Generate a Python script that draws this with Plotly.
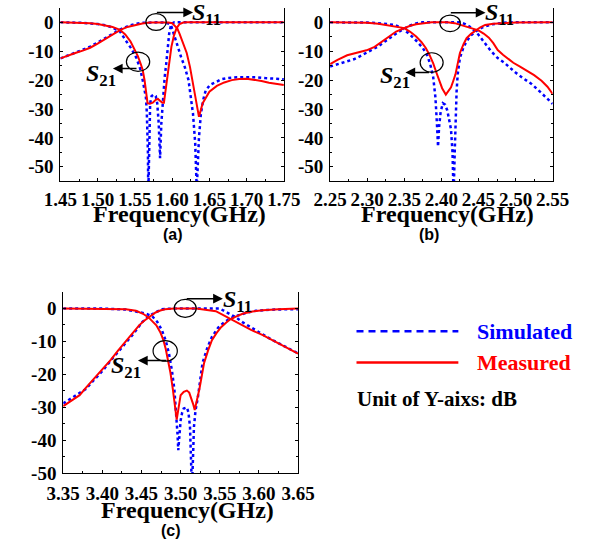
import plotly.graph_objects as go

# ---------------- DATA ----------------
# Panel (a): 1.45-1.75 GHz
a_meas_s21_f = [1.45,1.46,1.47,1.48,1.49,1.50,1.51,1.52,1.53,1.54,1.55,1.56,1.57,1.58,1.59,1.595,1.600,1.604,1.607,1.610,1.614,1.6196,1.624,1.628,1.632,1.636,1.641,1.645,1.650,1.660,1.670,1.680,1.690,1.700,1.710,1.720,1.730,1.740,1.750]
a_meas_s21_db = [-12.5,-11.5,-10.6,-9.8,-8.8,-7.4,-5.8,-4.2,-2.7,-1.6,-0.9,-0.4,-0.1,0,0,-0.1,-0.3,-1.2,-2.2,-4.0,-7.0,-10.6,-15.5,-21.4,-27.5,-32.7,-28,-26,-24,-22,-20.8,-20,-19.6,-19.5,-19.8,-20.3,-20.9,-21.4,-21.7]
a_meas_s11_f = [1.45,1.47,1.49,1.50,1.51,1.52,1.53,1.537,1.544,1.550,1.554,1.558,1.5605,1.563,1.565,1.567,1.570,1.574,1.578,1.581,1.584,1.587,1.589,1.591,1.593,1.596,1.599,1.6025,1.606,1.610,1.615,1.62,1.65,1.70,1.75]
a_meas_s11_db = [0,-0.1,-0.3,-0.6,-1.0,-1.6,-2.6,-4.2,-6.6,-9.5,-11.7,-14.5,-16.5,-20,-24,-28,-28.2,-27.8,-26.8,-26.5,-27.2,-27.8,-27.8,-24,-19,-13.5,-8.5,-4.5,-2,-0.6,-0.1,0,0,0,0]
a_sim_s21_f = [1.45,1.46,1.47,1.48,1.49,1.50,1.51,1.52,1.53,1.54,1.55,1.56,1.57,1.58,1.59,1.595,1.5985,1.605,1.612,1.617,1.622,1.628,1.631,1.633,1.6345,1.636,1.6386,1.642,1.645,1.651,1.66,1.666,1.675,1.687,1.70,1.712,1.725,1.74,1.75]
a_sim_s21_db = [-12.5,-11.6,-10.5,-9.5,-8.4,-7.0,-5.5,-3.9,-2.5,-1.4,-0.6,-0.2,0,0,-0.1,-0.4,-1.0,-6.6,-12,-15.5,-20,-31.6,-42,-58,-50,-40,-31.6,-26.5,-23.6,-21.6,-20.5,-19.7,-19.3,-19,-19,-19,-19.3,-19.6,-19.7]
a_sim_s11_f = [1.45,1.48,1.50,1.51,1.52,1.53,1.537,1.545,1.552,1.557,1.5605,1.563,1.5648,1.566,1.567,1.5675,1.568,1.569,1.5705,1.5725,1.5755,1.578,1.580,1.582,1.5838,1.5855,1.588,1.590,1.592,1.594,1.596,1.598,1.600,1.603,1.61,1.65,1.70,1.75]
a_sim_s11_db = [0,-0.2,-0.6,-1.0,-1.8,-3.2,-6,-9,-12.3,-16,-20,-23,-26,-31,-37,-45,-60,-40,-28,-25.5,-25,-25.5,-28,-35,-47,-35,-24,-19,-14.5,-9,-4,-1.5,-0.4,0,0,0,0,0]

# Panel (b): 2.25-2.55 GHz
b_meas_s21_f = [2.25,2.26,2.273,2.285,2.299,2.31,2.32,2.33,2.339,2.35,2.358,2.366,2.375,2.387,2.40,2.408,2.418,2.425,2.438,2.45,2.457,2.464,2.47,2.476,2.483,2.489,2.497,2.506,2.515,2.525,2.535,2.543,2.55]
b_meas_s21_db = [-14.5,-13,-11.4,-10.5,-9.7,-8.5,-6.6,-4.8,-3.2,-2.0,-1.2,-0.7,-0.3,0,0,0,-0.3,-0.8,-1.8,-2.8,-3.9,-5.3,-7.2,-9.6,-11.2,-12.5,-14,-15.3,-16.6,-18.3,-20.2,-22.3,-24.8]
b_meas_s11_f = [2.25,2.28,2.30,2.315,2.324,2.335,2.35,2.358,2.366,2.373,2.379,2.384,2.389,2.393,2.397,2.401,2.406,2.41,2.413,2.416,2.419,2.422,2.425,2.43,2.434,2.44,2.446,2.452,2.459,2.47,2.484,2.50,2.55]
b_meas_s11_db = [0,-0.1,-0.2,-0.5,-0.9,-1.4,-2.0,-3.3,-4.9,-6.8,-8.9,-11.3,-14.2,-17.2,-20.2,-22.8,-25,-23.5,-22.5,-20.3,-18,-14.3,-10.6,-7.5,-5.5,-4,-2.8,-1.8,-0.9,-0.5,-0.3,-0.1,0]
b_sim_s21_f = [2.25,2.265,2.282,2.29,2.303,2.315,2.324,2.335,2.343,2.35,2.358,2.366,2.375,2.40,2.425,2.432,2.438,2.444,2.45,2.458,2.467,2.476,2.485,2.492,2.50,2.51,2.522,2.535,2.55]
b_sim_s21_db = [-15.3,-14,-12.8,-11.8,-10,-8.3,-6.6,-4.6,-3.2,-2.2,-1.1,-0.4,0,0,0,-0.6,-1.5,-2.8,-4.3,-7,-10,-12.4,-14,-15.6,-17.4,-19.3,-21.4,-24.5,-28.2]
b_sim_s11_f = [2.25,2.30,2.32,2.337,2.348,2.358,2.367,2.375,2.381,2.385,2.389,2.392,2.394,2.3955,2.397,2.399,2.402,2.405,2.408,2.411,2.413,2.415,2.4165,2.418,2.419,2.4205,2.422,2.425,2.43,2.434,2.44,2.446,2.455,2.468,2.49,2.55]
b_sim_s11_db = [0,-0.1,-0.4,-0.9,-2.2,-4.3,-6.6,-8.9,-11.5,-14.5,-19,-26,-35,-43,-36,-31,-28,-28.5,-30.5,-34,-37,-45,-60,-45,-31.6,-24,-18,-12.3,-8.5,-6.6,-4.5,-3.2,-1.8,-0.7,0,0]

# Panel (c): 3.35-3.65 GHz
c_meas_s21_f = [3.35,3.36,3.371,3.38,3.391,3.40,3.411,3.42,3.431,3.44,3.447,3.453,3.459,3.464,3.468,3.474,3.48,3.492,3.52,3.545,3.552,3.558,3.564,3.572,3.58,3.59,3.605,3.617,3.629,3.64,3.65]
c_meas_s21_db = [-29.6,-28,-26.3,-23.8,-20.9,-18.4,-15.5,-12.8,-9.6,-7,-5.1,-3.8,-2.7,-1.8,-1.2,-0.6,-0.2,0,0,-0.8,-1.7,-2.4,-3.2,-4.1,-5.1,-6.5,-8.1,-9.6,-11,-12.4,-13.7]
c_meas_s11_f = [3.35,3.40,3.43,3.443,3.452,3.459,3.465,3.469,3.474,3.478,3.481,3.484,3.487,3.49,3.493,3.495,3.4975,3.5,3.504,3.508,3.511,3.514,3.516,3.518,3.521,3.524,3.527,3.53,3.535,3.54,3.546,3.552,3.558,3.564,3.572,3.58,3.592,3.605,3.625,3.65]
c_meas_s11_db = [0,0,-0.2,-0.7,-1.6,-2.7,-4,-5.1,-7.2,-9.6,-12.3,-15.5,-19.5,-24.4,-30,-33.7,-30,-26.3,-25.3,-24.9,-25.5,-27.3,-29,-30.8,-28,-24.4,-20.5,-16.5,-12.8,-9.6,-7.4,-5.6,-4.3,-3.2,-2.3,-1.5,-0.9,-0.5,-0.2,0]
c_sim_s21_f = [3.35,3.36,3.37,3.379,3.39,3.40,3.41,3.42,3.43,3.44,3.451,3.458,3.464,3.47,3.476,3.49,3.55,3.56,3.57,3.58,3.59,3.60,3.61,3.62,3.63,3.64,3.65]
c_sim_s21_db = [-28.8,-27.2,-25.6,-24.4,-21.5,-19,-16,-13.3,-10.3,-7.6,-4.1,-2.6,-1.7,-0.9,-0.2,0,0,-1.3,-2.6,-4.3,-5.8,-7.2,-8.6,-9.9,-11.1,-12.4,-13.6]
c_sim_s11_f = [3.35,3.40,3.43,3.445,3.455,3.464,3.47,3.476,3.481,3.485,3.489,3.492,3.494,3.496,3.497,3.4985,3.5,3.502,3.504,3.508,3.51,3.512,3.5135,3.5145,3.516,3.517,3.519,3.522,3.528,3.534,3.54,3.548,3.556,3.564,3.572,3.584,3.596,3.62,3.65]
c_sim_s11_db = [0,0,-0.3,-0.9,-1.5,-2.4,-4,-6.5,-9.8,-13.5,-19,-24.5,-30,-38,-43,-38,-34,-31.5,-30.3,-30,-31.5,-36,-44,-55,-44,-36,-31,-27,-16.5,-12,-8.6,-5.8,-4.1,-2.9,-2.2,-1.3,-0.7,-0.3,-0.2]

x_ranges = [[1.45, 1.75], [2.25, 2.55], [3.35, 3.65]]
a_xticks = ["1.45", "1.50", "1.55", "1.60", "1.65", "1.70", "1.75"]
b_xticks = ["2.25", "2.30", "2.35", "2.40", "2.45", "2.50", "2.55"]
c_xticks = ["3.35", "3.40", "3.45", "3.50", "3.55", "3.60", "3.65"]
y_ranges = [[-55, 5], [-55, 5], [-50, 5]]
y_tickvals = [0, -10, -20, -30, -40, -50]
y_ticktext = ["0", "-10", "-20", "-30", "-40", "-50"]
panel_labels = ["(a)", "(b)", "(c)"]
x_title = "Frequency(GHz)"
legend_labels = ["Simulated", "Measured"]
unit_text = "Unit of Y-aixs: dB"

# ---------------- STYLE ----------------
BLUE = "rgb(0,0,255)"
RED = "rgb(255,0,0)"
SERIF = "Liberation Serif"
SANS = "Liberation Sans"

W, H = 597, 549
def px_dom(x0, x1, y0, y1):
    return [x0 / W, x1 / W], [1 - y1 / H, 1 - y0 / H]

doms = [px_dom(46, 283, 8, 185), px_dom(332, 568, 8, 185), px_dom(49, 298, 298, 483)]
xtick_standoff = [1, 1, 3]

fig = go.Figure()

panels = [
    (a_sim_s21_f, a_sim_s21_db, a_sim_s11_f, a_sim_s11_db, a_meas_s21_f, a_meas_s21_db, a_meas_s11_f, a_meas_s11_db),
    (b_sim_s21_f, b_sim_s21_db, b_sim_s11_f, b_sim_s11_db, b_meas_s21_f, b_meas_s21_db, b_meas_s11_f, b_meas_s11_db),
    (c_sim_s21_f, c_sim_s21_db, c_sim_s11_f, c_sim_s11_db, c_meas_s21_f, c_meas_s21_db, c_meas_s11_f, c_meas_s11_db),
]
xtick_lists = [a_xticks, b_xticks, c_xticks]

for i, p in enumerate(panels):
    xa = "x" if i == 0 else f"x{i+1}"
    ya = "y" if i == 0 else f"y{i+1}"
    sf1, sd1, sf2, sd2, mf1, md1, mf2, md2 = p
    for f, d in [(sf1, sd1), (sf2, sd2)]:
        fig.add_trace(go.Scatter(x=f, y=d, mode="lines", xaxis=xa, yaxis=ya,
                                 line=dict(color=BLUE, width=2.5, dash="3px,3px"), showlegend=False))
    for f, d in [(mf1, md1), (mf2, md2)]:
        fig.add_trace(go.Scatter(x=f, y=d, mode="lines", xaxis=xa, yaxis=ya,
                                 line=dict(color=RED, width=2), showlegend=False))

tickfont = dict(family=SERIF, size=19, color="black")
layout = {}
for i in range(3):
    xk = "xaxis" if i == 0 else f"xaxis{i+1}"
    yk = "yaxis" if i == 0 else f"yaxis{i+1}"
    yname = "y" if i == 0 else f"y{i+1}"
    xname = "x" if i == 0 else f"x{i+1}"
    xd, yd = doms[i]
    labels = xtick_lists[i]
    layout[xk] = dict(domain=xd, anchor=yname, range=x_ranges[i],
                      tickvals=[float(t) for t in labels], ticktext=[f"<b>{t}</b>" for t in labels],
                      showgrid=False, zeroline=False, showline=True, linecolor="black",
                      linewidth=1, ticks="inside", ticklen=3, tickcolor="black", mirror=False,
                      minor=dict(ticks="inside", dtick=0.025, tick0=x_ranges[i][0], ticklen=2, tickcolor="black"),
                      tickfont=tickfont, fixedrange=True, ticklabelstandoff=xtick_standoff[i])
    layout[yk] = dict(domain=yd, anchor=xname, range=y_ranges[i], tickvals=y_tickvals,
                      ticktext=[f"<b>{t}</b>" for t in y_ticktext],
                      showgrid=False, zeroline=False, showline=True, linecolor="black", linewidth=1,
                      ticks="inside", ticklen=3, tickcolor="black", mirror="ticks",
                      minor=dict(ticks="inside", dtick=5, ticklen=2, tickcolor="black"),
                      tickfont=tickfont, fixedrange=True, ticklabelstandoff=2)

fig.update_layout(**layout)

annotations = []
shapes = []

title_pos = [(172, 218), (456, 218), (181, 520)]
label_pos = [(165, 239), (437, 239), (163, 541)]
for i in range(3):
    tx, ty = title_pos[i]
    annotations.append(dict(x=tx / W, y=1 - ty / H, xref="paper", yref="paper", text=f"<b>{x_title}</b>",
                            showarrow=False, xanchor="center", yanchor="middle",
                            font=dict(family=SERIF, size=24, color="black")))
    lx, ly = label_pos[i]
    annotations.append(dict(x=lx / W, y=1 - ly / H, xref="paper", yref="paper", text=f"<b>{panel_labels[i]}</b>",
                            showarrow=False, xanchor="center", yanchor="middle",
                            font=dict(family=SANS, size=16, color="black")))

# S-parameter callouts: (panel, ellipse x0,x1,y0,y1, arrow tail, arrow tip, text pos, subscript)
callouts = [
    (0, (1.5648, 1.5921, -2.8, 3.0), (1.5775, 3.4), (1.6281, 3.4), (1.624, 2.8), "11"),
    (0, (1.5386, 1.5699, -17.0, -10.3), (1.5542, -16.0), (1.5205, -16.0), (1.482, -18.3), "21"),
    (1, (2.398, 2.4256, -3.2, 2.5), (2.4107, 3.3), (2.4595, 3.3), (2.456, 2.8), "11"),
    (1, (2.3714, 2.4024, -17.35, -10.54), (2.3853, -17.35), (2.3516, -17.35), (2.314, -19.0), "21"),
    (2, (3.4918, 3.5199, -2.66, 2.75), (3.5058, 2.96), (3.554, 2.96), (3.551, 2.3), "11"),
    (2, (3.4648, 3.4958, -16.0, -9.76), (3.4837, -15.8), (3.4455, -15.8), (3.409, -17.7), "21"),
]
for (i, ell, tail, tip, tpos, sub) in callouts:
    xa = "x" if i == 0 else f"x{i+1}"
    ya = "y" if i == 0 else f"y{i+1}"
    shapes.append(dict(type="circle", xref=xa, yref=ya, x0=ell[0], x1=ell[1], y0=ell[2], y1=ell[3],
                       line=dict(color="black", width=1.2)))
    annotations.append(dict(x=tip[0], y=tip[1], ax=tail[0], ay=tail[1], xref=xa, yref=ya, axref=xa, ayref=ya,
                            text="", showarrow=True, arrowhead=2, arrowsize=1.3, arrowwidth=1.5,
                            arrowcolor="black"))
    annotations.append(dict(x=tpos[0], y=tpos[1], xref=xa, yref=ya, text=f"<b><i>S</i><sub>{sub}</sub></b>",
                            showarrow=False, xanchor="left", yanchor="middle",
                            font=dict(family=SERIF, size=24, color="black")))

# legend (drawn manually)
shapes.append(dict(type="line", xref="paper", yref="paper", x0=360 / W, x1=468 / W,
                   y0=1 - 338 / H, y1=1 - 338 / H, line=dict(color=BLUE, width=2.5, dash="7px,5px")))
shapes.append(dict(type="line", xref="paper", yref="paper", x0=360 / W, x1=468 / W,
                   y0=1 - 370 / H, y1=1 - 370 / H, line=dict(color=RED, width=2.5)))
annotations.append(dict(x=486 / W, y=1 - 338 / H, xref="paper", yref="paper", text=f"<b>{legend_labels[0]}</b>",
                        showarrow=False, xanchor="left", yanchor="middle",
                        font=dict(family=SERIF, size=22, color=BLUE)))
annotations.append(dict(x=486 / W, y=1 - 370 / H, xref="paper", yref="paper", text=f"<b>{legend_labels[1]}</b>",
                        showarrow=False, xanchor="left", yanchor="middle",
                        font=dict(family=SERIF, size=22, color=RED)))
annotations.append(dict(x=358 / W, y=1 - 407 / H, xref="paper", yref="paper", text=f"<b>{unit_text}</b>",
                        showarrow=False, xanchor="left", yanchor="middle",
                        font=dict(family=SERIF, size=21, color="black")))

fig.update_layout(width=W, height=H, margin=dict(l=0, r=0, t=0, b=0), paper_bgcolor="white",
                  plot_bgcolor="white", showlegend=False, annotations=annotations, shapes=shapes)

fig.write_html("out.html", config={"displayModeBar": False})
